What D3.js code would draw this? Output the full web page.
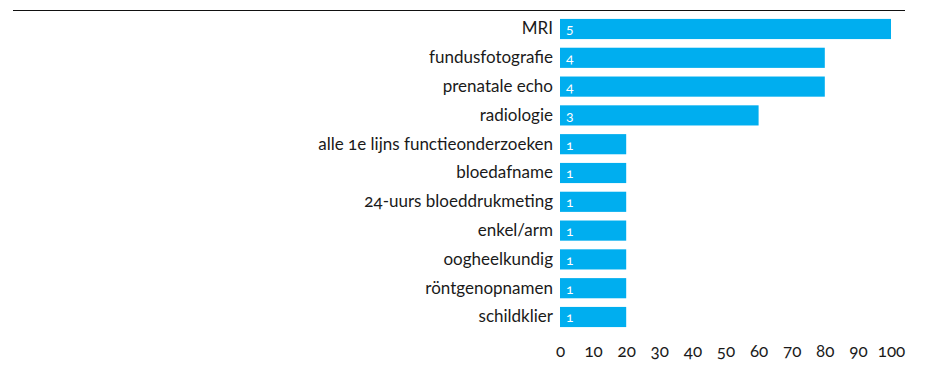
<!DOCTYPE html>
<html>
<head>
<meta charset="utf-8">
<script src="https://cdn.jsdelivr.net/npm/d3@7"></script>
<style>
  html, body { margin: 0; padding: 0; background: #fff; }
  svg { display: block; font-family: Lato, "Open Sans", sans-serif; font-feature-settings: "onum" 1; }
</style>
</head>
<body>
<svg id="chart" width="934" height="366"></svg>
<script>
// Onderzoeken en aantallen (waarde = percentage van het maximum)
const categories = [
  "MRI", "fundusfotografie", "prenatale echo", "radiologie",
  "alle 1e lijns functieonderzoeken", "bloedafname", "24-uurs bloeddrukmeting",
  "enkel/arm", "oogheelkundig", "röntgenopnamen", "schildklier"
];
const counts = [5, 4, 4, 3, 1, 1, 1, 1, 1, 1, 1];
const values = [100, 80, 80, 60, 20, 20, 20, 20, 20, 20, 20];
const tickValues = [0, 10, 20, 30, 40, 50, 60, 70, 80, 90, 100];

const svg = d3.select("#chart");

const x = d3.scaleLinear().domain([0, 100]).range([560, 891]);
const y = d3.scaleBand().domain(categories).range([14.6, 331.4])
  .paddingInner(0.3).paddingOuter(0.15);

// bovenlijn
svg.append("line")
  .attr("x1", 13).attr("x2", 905)
  .attr("y1", 10.5).attr("y2", 10.5)
  .attr("stroke", "#111").attr("stroke-width", 1.2);

// balken
svg.append("g").selectAll("rect")
  .data(categories)
  .join("rect")
  .attr("x", x(0))
  .attr("y", d => y(d))
  .attr("width", (d, i) => x(values[i]) - x(0))
  .attr("height", y.bandwidth())
  .attr("fill", "#00aeef");

// aantallen in de balken
svg.append("g").selectAll("text")
  .data(categories)
  .join("text")
  .attr("x", x(0) + 6)
  .attr("y", d => y(d) + y.bandwidth() / 2)
  .attr("dy", "0.38em")
  .attr("fill", "#fff")
  .attr("font-size", 14)
  .text((d, i) => counts[i]);

// categorielabels
const yAxis = d3.axisLeft(y).tickSize(0).tickPadding(7);
const gy = svg.append("g").attr("transform", `translate(${x(0)},0)`).call(yAxis);
gy.select(".domain").remove();
gy.selectAll("text")
  .attr("font-size", 17)
  .attr("font-family", "Lato, 'Open Sans', sans-serif")
  .attr("fill", "#1a1a1a");

// x-as
const xAxis = d3.axisBottom(x).tickValues(tickValues).tickSize(0).tickPadding(0);
const gx = svg.append("g").attr("transform", "translate(0,345)").call(xAxis);
gx.select(".domain").remove();
gx.selectAll("text")
  .attr("font-size", 17)
  .attr("font-family", "Lato, 'Open Sans', sans-serif")
  .attr("fill", "#1a1a1a");
</script>
</body>
</html>
